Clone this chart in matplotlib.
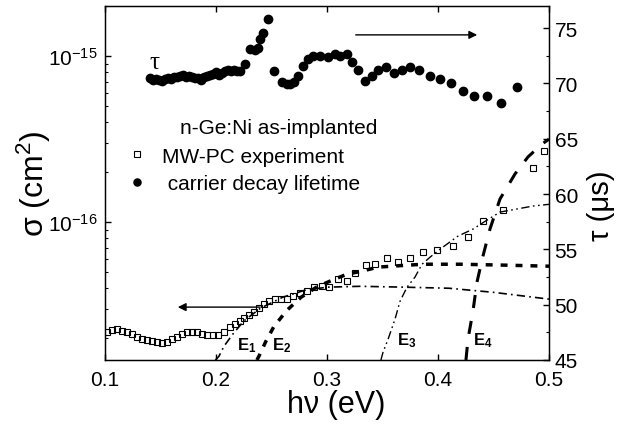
import numpy as np
import matplotlib
matplotlib.use("Agg")
import matplotlib.pyplot as plt
from matplotlib.ticker import LogLocator, NullFormatter, MultipleLocator

plt.rcParams['font.family'] = ['Liberation Sans', 'DejaVu Sans']
plt.rcParams['mathtext.fontset'] = 'custom'
plt.rcParams['mathtext.rm'] = 'Liberation Sans'
plt.rcParams['mathtext.it'] = 'Liberation Sans:italic'
plt.rcParams['mathtext.bf'] = 'Liberation Sans:bold'
plt.rcParams['axes.unicode_minus'] = False

# MW-PC experiment (left axis, cm^2)
mwpc_hv = [0.1018, 0.1063, 0.1108, 0.1153, 0.1198, 0.1243, 0.1288, 0.1333, 0.1378,
           0.1423, 0.1468, 0.1514, 0.1559, 0.1604, 0.1649, 0.1694, 0.1739, 0.1784,
           0.1829, 0.1874, 0.1919, 0.1973, 0.2018, 0.2072, 0.2126, 0.2171, 0.2216,
           0.2252, 0.2297, 0.2342, 0.2387, 0.2432, 0.2477, 0.2532, 0.2586, 0.2640,
           0.2694, 0.2757, 0.2820, 0.2883, 0.2955, 0.3018, 0.3099, 0.3180, 0.3252,
           0.3351, 0.3432, 0.3541, 0.3640, 0.3748, 0.3865, 0.3991, 0.4135, 0.4270,
           0.4405, 0.4586, 0.4856, 0.4955]
mwpc_sigma = [2.17e-17, 2.23e-17, 2.26e-17, 2.20e-17, 2.17e-17, 2.11e-17, 2.03e-17, 1.97e-17, 1.95e-17,
              1.92e-17, 1.89e-17, 1.87e-17, 1.89e-17, 1.97e-17, 2.03e-17, 2.11e-17, 2.17e-17, 2.17e-17,
              2.17e-17, 2.11e-17, 2.08e-17, 2.08e-17, 2.08e-17, 2.17e-17, 2.33e-17, 2.43e-17, 2.54e-17,
              2.64e-17, 2.75e-17, 2.87e-17, 3.03e-17, 3.21e-17, 3.34e-17, 3.44e-17, 3.44e-17, 3.44e-17,
              3.58e-17, 3.73e-17, 3.84e-17, 4.06e-17, 4.11e-17, 4.06e-17, 4.54e-17, 4.41e-17, 4.93e-17,
              5.51e-17, 5.58e-17, 6.06e-17, 5.74e-17, 6.06e-17, 6.59e-17, 6.78e-17, 7.16e-17, 8.12e-17,
              1.01e-16, 1.18e-16, 2.11e-16, 2.68e-16]

# carrier decay lifetime (right axis, us)
tau_hv = [0.1405, 0.1432, 0.1459, 0.1486, 0.1514, 0.1541, 0.1568, 0.1595, 0.1622, 0.1649,
          0.1676, 0.1703, 0.1730, 0.1757, 0.1784, 0.1811, 0.1838, 0.1865, 0.1892, 0.1919,
          0.1946, 0.1973, 0.2000, 0.2027, 0.2054, 0.2081, 0.2108, 0.2135, 0.2162, 0.2189,
          0.2216, 0.2261, 0.2306, 0.2351, 0.2378, 0.2396, 0.2423, 0.2468, 0.2523, 0.2595,
          0.2640, 0.2667, 0.2700, 0.2739, 0.2784, 0.2829, 0.2874, 0.2937, 0.3009, 0.3072,
          0.3117, 0.3180, 0.3225, 0.3279, 0.3342, 0.3405, 0.3459, 0.3532, 0.3604, 0.3676,
          0.3748, 0.3829, 0.3928, 0.4018, 0.4117, 0.4225, 0.4324, 0.4441, 0.4568, 0.4712]
tau_us = [70.50, 70.32, 70.41, 70.32, 70.23, 70.41, 70.50, 70.41, 70.59, 70.59,
          70.68, 70.77, 70.59, 70.68, 70.59, 70.50, 70.50, 70.32, 70.59, 70.68,
          70.77, 70.86, 71.04, 70.77, 70.95, 71.13, 71.22, 71.13, 71.22, 71.13,
          71.13, 71.76, 73.12, 73.03, 73.21, 74.02, 74.57, 75.83, 71.13, 70.14,
          69.95, 69.95, 70.14, 70.68, 71.58, 72.21, 72.49, 72.49, 72.40, 72.67,
          72.49, 72.67, 71.94, 71.22, 70.23, 70.68, 71.22, 71.49, 70.95, 71.22,
          71.49, 71.22, 70.68, 70.41, 70.05, 69.32, 68.87, 68.87, 68.24, 69.68]

# fitted components
e1_hv = [0.1995, 0.2027, 0.2072, 0.215, 0.225, 0.24, 0.26, 0.28, 0.30, 0.33, 0.37, 0.41, 0.45, 0.50]
e1_sigma = [1.48e-17, 1.56e-17, 1.79e-17, 2.11e-17, 2.54e-17, 3.03e-17, 3.53e-17, 3.89e-17,
            4.06e-17, 4.11e-17, 4.06e-17, 4.00e-17, 3.78e-17, 3.44e-17]
e2_hv = [0.2369, 0.2387, 0.245, 0.2523, 0.264, 0.2766, 0.2905, 0.3045, 0.318, 0.3315,
         0.346, 0.3585, 0.373, 0.387, 0.42, 0.46, 0.50]
e2_sigma = [1.48e-17, 1.56e-17, 1.92e-17, 2.36e-17, 2.95e-17, 3.53e-17, 4.06e-17, 4.47e-17,
            4.86e-17, 5.07e-17, 5.36e-17, 5.43e-17, 5.51e-17, 5.58e-17, 5.58e-17, 5.51e-17, 5.43e-17]
e3_hv = [0.3486, 0.3505, 0.355, 0.3613, 0.3658, 0.3721, 0.3793, 0.3856, 0.3928, 0.4018,
         0.4180, 0.4315, 0.4423, 0.4559, 0.4712, 0.4856, 0.50]
e3_sigma = [1.48e-17, 1.65e-17, 1.97e-17, 2.61e-17, 3.34e-17, 4.06e-17, 4.67e-17, 5.58e-17,
            6.15e-17, 6.87e-17, 8.24e-17, 9.08e-17, 1.01e-16, 1.15e-16, 1.20e-16, 1.25e-16, 1.28e-16]
e4_hv = [0.4252, 0.427, 0.4315, 0.4351, 0.4405, 0.4468, 0.4559, 0.4694, 0.4811, 0.4937, 0.50]
e4_sigma = [1.48e-17, 1.97e-17, 2.91e-17, 4.35e-17, 6.24e-17, 9.08e-17, 1.38e-16, 1.95e-16,
            2.47e-16, 2.95e-16, 3.16e-16]

fig = plt.figure(figsize=(6.19, 4.27), dpi=100)
ax = fig.add_axes([0.1696, 0.1546, 0.7173, 0.829])

ax.plot(e1_hv, e1_sigma, color='k', lw=1.2, ls=(0, (5, 2.5, 1, 2.5)))
ax.plot(e2_hv, e2_sigma, color='k', lw=2.5, ls=(0, (2.0, 2.3)))
ax.plot(e3_hv, e3_sigma, color='k', lw=1.0, ls=(0, (6, 2.5, 1.2, 2.5, 1.2, 2.5)))
ax.plot(e4_hv, e4_sigma, color='k', lw=2.2, ls=(0, (4.3, 4.3)))
sq, = ax.plot(mwpc_hv, mwpc_sigma, 's', ms=5, mfc='none', mec='k', mew=0.8)

ax.set_yscale('log')
ax.set_xlim(0.1, 0.5)
ax.set_ylim(1.48e-17, 2.0e-15)
ax.xaxis.set_major_locator(MultipleLocator(0.1))
ax.yaxis.set_minor_locator(LogLocator(base=10, subs=np.arange(2, 10)))
ax.yaxis.set_minor_formatter(NullFormatter())
ax.tick_params(axis='x', which='both', direction='in', top=True, labelsize=15, pad=7, length=4.5, width=1)
ax.tick_params(axis='y', which='major', direction='in', left=True, right=False, labelsize=15, pad=5, length=4.5, width=1)
ax.tick_params(axis='y', which='minor', direction='in', left=True, right=False, length=2.5, width=0.8)
for s in ax.spines.values():
    s.set_linewidth(1.0)

ax.set_xlabel(u'h\u03bd (eV)', fontsize=22)
ax.xaxis.set_label_coords(0.52, -0.082)
ax.set_ylabel(u'\u03c3 (cm$^2$)', fontsize=23)
ax.yaxis.set_label_coords(-0.117, 0.5)

# component labels
ax.text(0.2189, 1.72e-17, r'$\mathbf{E_1}$', fontsize=12)
ax.text(0.2505, 1.72e-17, r'$\mathbf{E_2}$', fontsize=12)
ax.text(0.363, 1.84e-17, r'$\mathbf{E_3}$', fontsize=12)
ax.text(0.4315, 1.84e-17, r'$\mathbf{E_4}$', fontsize=12)

ax.annotate('', xy=(0.1631, 3.08e-17), xytext=(0.2423, 3.08e-17),
            arrowprops=dict(arrowstyle='-|>', color='k', lw=1.0, mutation_scale=12))

ax2 = ax.twinx()
dots, = ax2.plot(tau_hv, tau_us, 'o', ms=6, color='k')
ax2.set_ylim(45, 77)
ax2.yaxis.set_major_locator(MultipleLocator(5))
ax2.yaxis.set_minor_locator(MultipleLocator(2.5))
ax2.tick_params(axis='y', which='major', direction='in', labelsize=15, pad=4, length=4.5, width=1)
ax2.tick_params(axis='y', which='minor', direction='in', length=2.5, width=0.8)
ax2.set_ylabel(u'\u03c4 (\u03bcs)', fontsize=21)
ax2.yaxis.set_label_coords(1.086, 0.438)
ax2.annotate('', xy=(0.4378, 74.39), xytext=(0.3234, 74.39),
             arrowprops=dict(arrowstyle='-|>', color='k', lw=1.0, mutation_scale=12))
ax2.text(0.145, 71.9, u'\u03c4', fontsize=18, family='Liberation Serif', ha='center', va='center')

ax.text(0.169, 0.658, 'n-Ge:Ni as-implanted', transform=ax.transAxes, fontsize=15,
        ha='left', va='center')
ax.legend([sq, dots], ['MW-PC experiment', ' carrier decay lifetime'],
          loc='center left', bbox_to_anchor=(0.0486, 0.537), frameon=False,
          fontsize=15, handlelength=1.0, handletextpad=0.7, labelspacing=0.4,
          borderpad=0, borderaxespad=0, markerscale=0.85)

fig.savefig('out.png', dpi=100)
